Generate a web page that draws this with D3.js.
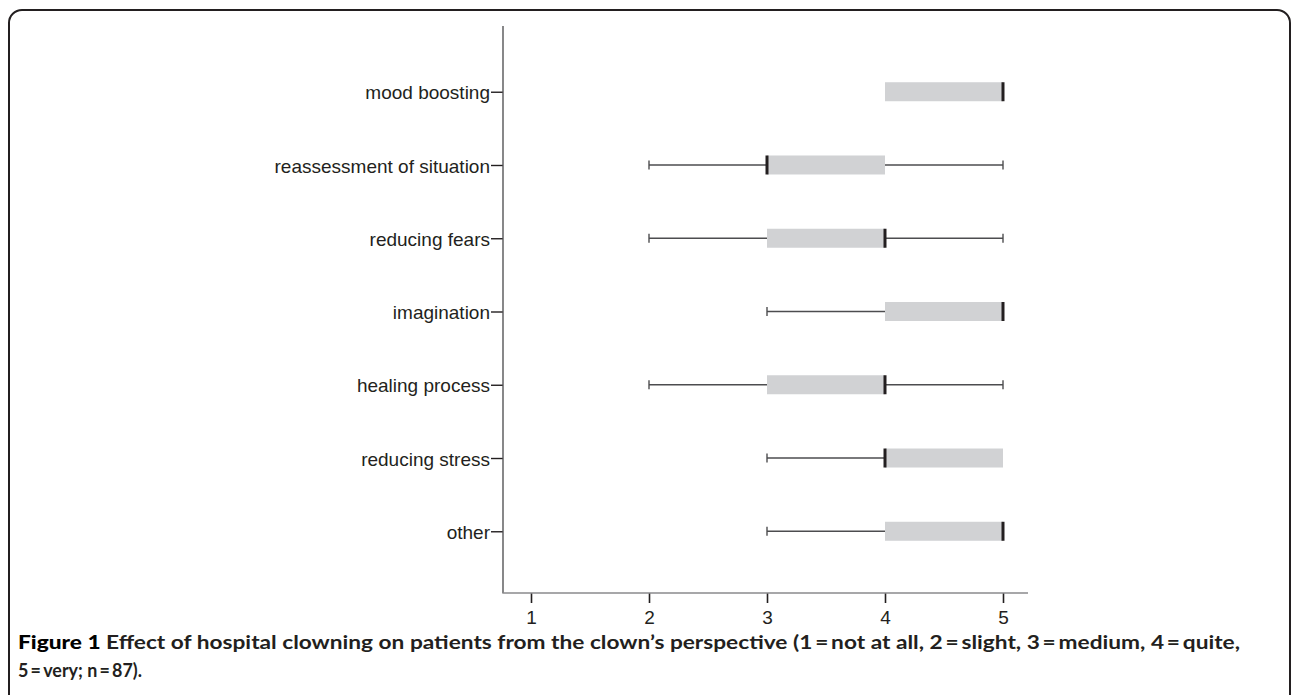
<!DOCTYPE html>
<html>
<head>
<meta charset="utf-8">
<script src="https://cdn.jsdelivr.net/npm/d3@7"></script>
<style>
  html, body { margin: 0; padding: 0; background: #fff; }
  svg { display: block; }
</style>
</head>
<body>
<svg id="chart" width="1292" height="695"></svg>
<script>
const categories = ["mood boosting", "reassessment of situation", "reducing fears", "imagination", "healing process", "reducing stress", "other"];
const whiskerLow  = [4, 2, 2, 3, 2, 3, 3];
const boxLow      = [4, 3, 3, 4, 3, 4, 4];
const medians     = [5, 3, 4, 5, 4, 4, 5];
const boxHigh     = [5, 4, 4, 5, 4, 5, 5];
const whiskerHigh = [5, 5, 5, 5, 5, 5, 5];
const xTicks = [1, 2, 3, 4, 5];
const captionBold = "Figure 1";
const captionLine1 = " Effect of hospital clowning on patients from the clown\u2019s perspective (1\u2009=\u2009not at all, 2\u2009=\u2009slight, 3\u2009=\u2009medium, 4\u2009=\u2009quite,";
const captionLine2 = "5\u2009=\u2009very; n\u2009=\u200987).";

const svg = d3.select("#chart");
const ink = "#231f20";

// frame
svg.append("rect").attr("x", 9).attr("y", 10).attr("width", 1281).attr("height", 800)
  .attr("rx", 13).attr("fill", "none").attr("stroke", ink).attr("stroke-width", 2);

const x = d3.scaleLinear().domain([1, 5]).range([531, 1003]);
const y = d3.scalePoint().domain(categories).range([28, 595]).padding(0.87);
const axisLeft = 503, axisBottom = 593, axisRight = 1028;

const rows = categories.map((c, i) => ({
  c, wl: whiskerLow[i], bl: boxLow[i], m: medians[i], bh: boxHigh[i], wh: whiskerHigh[i]
}));

const boxH = 19;
const g = svg.append("g");

// whiskers
rows.forEach(r => {
  const cy = y(r.c);
  if (r.wl < r.bl) {
    g.append("line").attr("x1", x(r.wl)).attr("x2", x(r.bl)).attr("y1", cy).attr("y2", cy)
      .attr("stroke", "#4d4d4f").attr("stroke-width", 1.4);
    g.append("line").attr("x1", x(r.wl)).attr("x2", x(r.wl)).attr("y1", cy - 4.5).attr("y2", cy + 4.5)
      .attr("stroke", "#4d4d4f").attr("stroke-width", 1.4);
  }
  if (r.wh > r.bh) {
    g.append("line").attr("x1", x(r.bh)).attr("x2", x(r.wh)).attr("y1", cy).attr("y2", cy)
      .attr("stroke", "#4d4d4f").attr("stroke-width", 1.4);
    g.append("line").attr("x1", x(r.wh)).attr("x2", x(r.wh)).attr("y1", cy - 4.5).attr("y2", cy + 4.5)
      .attr("stroke", "#4d4d4f").attr("stroke-width", 1.4);
  }
});

// boxes
g.selectAll("rect.box").data(rows).join("rect").attr("class", "box")
  .attr("x", d => x(d.bl)).attr("width", d => x(d.bh) - x(d.bl))
  .attr("y", d => y(d.c) - boxH / 2).attr("height", boxH)
  .attr("fill", "#d1d2d4");

// medians
g.selectAll("line.med").data(rows).join("line").attr("class", "med")
  .attr("x1", d => x(d.m)).attr("x2", d => x(d.m))
  .attr("y1", d => y(d.c) - boxH / 2).attr("y2", d => y(d.c) + boxH / 2)
  .attr("stroke", ink).attr("stroke-width", 3);

// y axis
const yAxis = d3.axisLeft(y).tickSize(12).tickPadding(1);
const yg = svg.append("g").attr("transform", `translate(${axisLeft},0)`).call(yAxis);
yg.select(".domain").remove();
yg.selectAll(".tick line").attr("stroke", ink).attr("stroke-width", 1.4);
yg.selectAll(".tick text").attr("fill", ink).attr("font-family", "'Liberation Sans', Arial, sans-serif")
  .attr("font-size", 19).attr("dy", "0.38em");
svg.append("line").attr("x1", axisLeft).attr("x2", axisLeft).attr("y1", 26).attr("y2", axisBottom)
  .attr("stroke", "#555557").attr("stroke-width", 1.4);

// x axis
const xAxis = d3.axisBottom(x).tickValues(xTicks).tickFormat(d3.format("d")).tickSize(10).tickPadding(8);
const xg = svg.append("g").attr("transform", `translate(0,${axisBottom})`).call(xAxis);
xg.select(".domain").remove();
xg.selectAll(".tick line").attr("stroke", ink).attr("stroke-width", 1.6);
xg.selectAll(".tick text").attr("fill", ink).attr("font-family", "'Liberation Sans', Arial, sans-serif")
  .attr("font-size", 19);
svg.append("line").attr("x1", axisLeft - 0.7).attr("x2", axisRight).attr("y1", axisBottom).attr("y2", axisBottom)
  .attr("stroke", "#8a8a8c").attr("stroke-width", 1.6);

// caption
const cap = svg.append("text").attr("x", 18).attr("y", 649)
  .attr("font-family", "Lato, 'Open Sans', sans-serif").attr("font-weight", 700)
  .attr("font-size", 19.5).attr("fill", ink)
  .attr("textLength", 1222).attr("lengthAdjust", "spacingAndGlyphs");
cap.append("tspan").attr("font-weight", 900).attr("fill", "#000").text(captionBold);
cap.append("tspan").text(captionLine1);
svg.append("text").attr("x", 18).attr("y", 677)
  .attr("font-family", "Lato, 'Open Sans', sans-serif").attr("font-weight", 700)
  .attr("font-size", 19.5).attr("fill", ink)
  .attr("textLength", 124).attr("lengthAdjust", "spacingAndGlyphs")
  .text(captionLine2);
</script>
</body>
</html>
